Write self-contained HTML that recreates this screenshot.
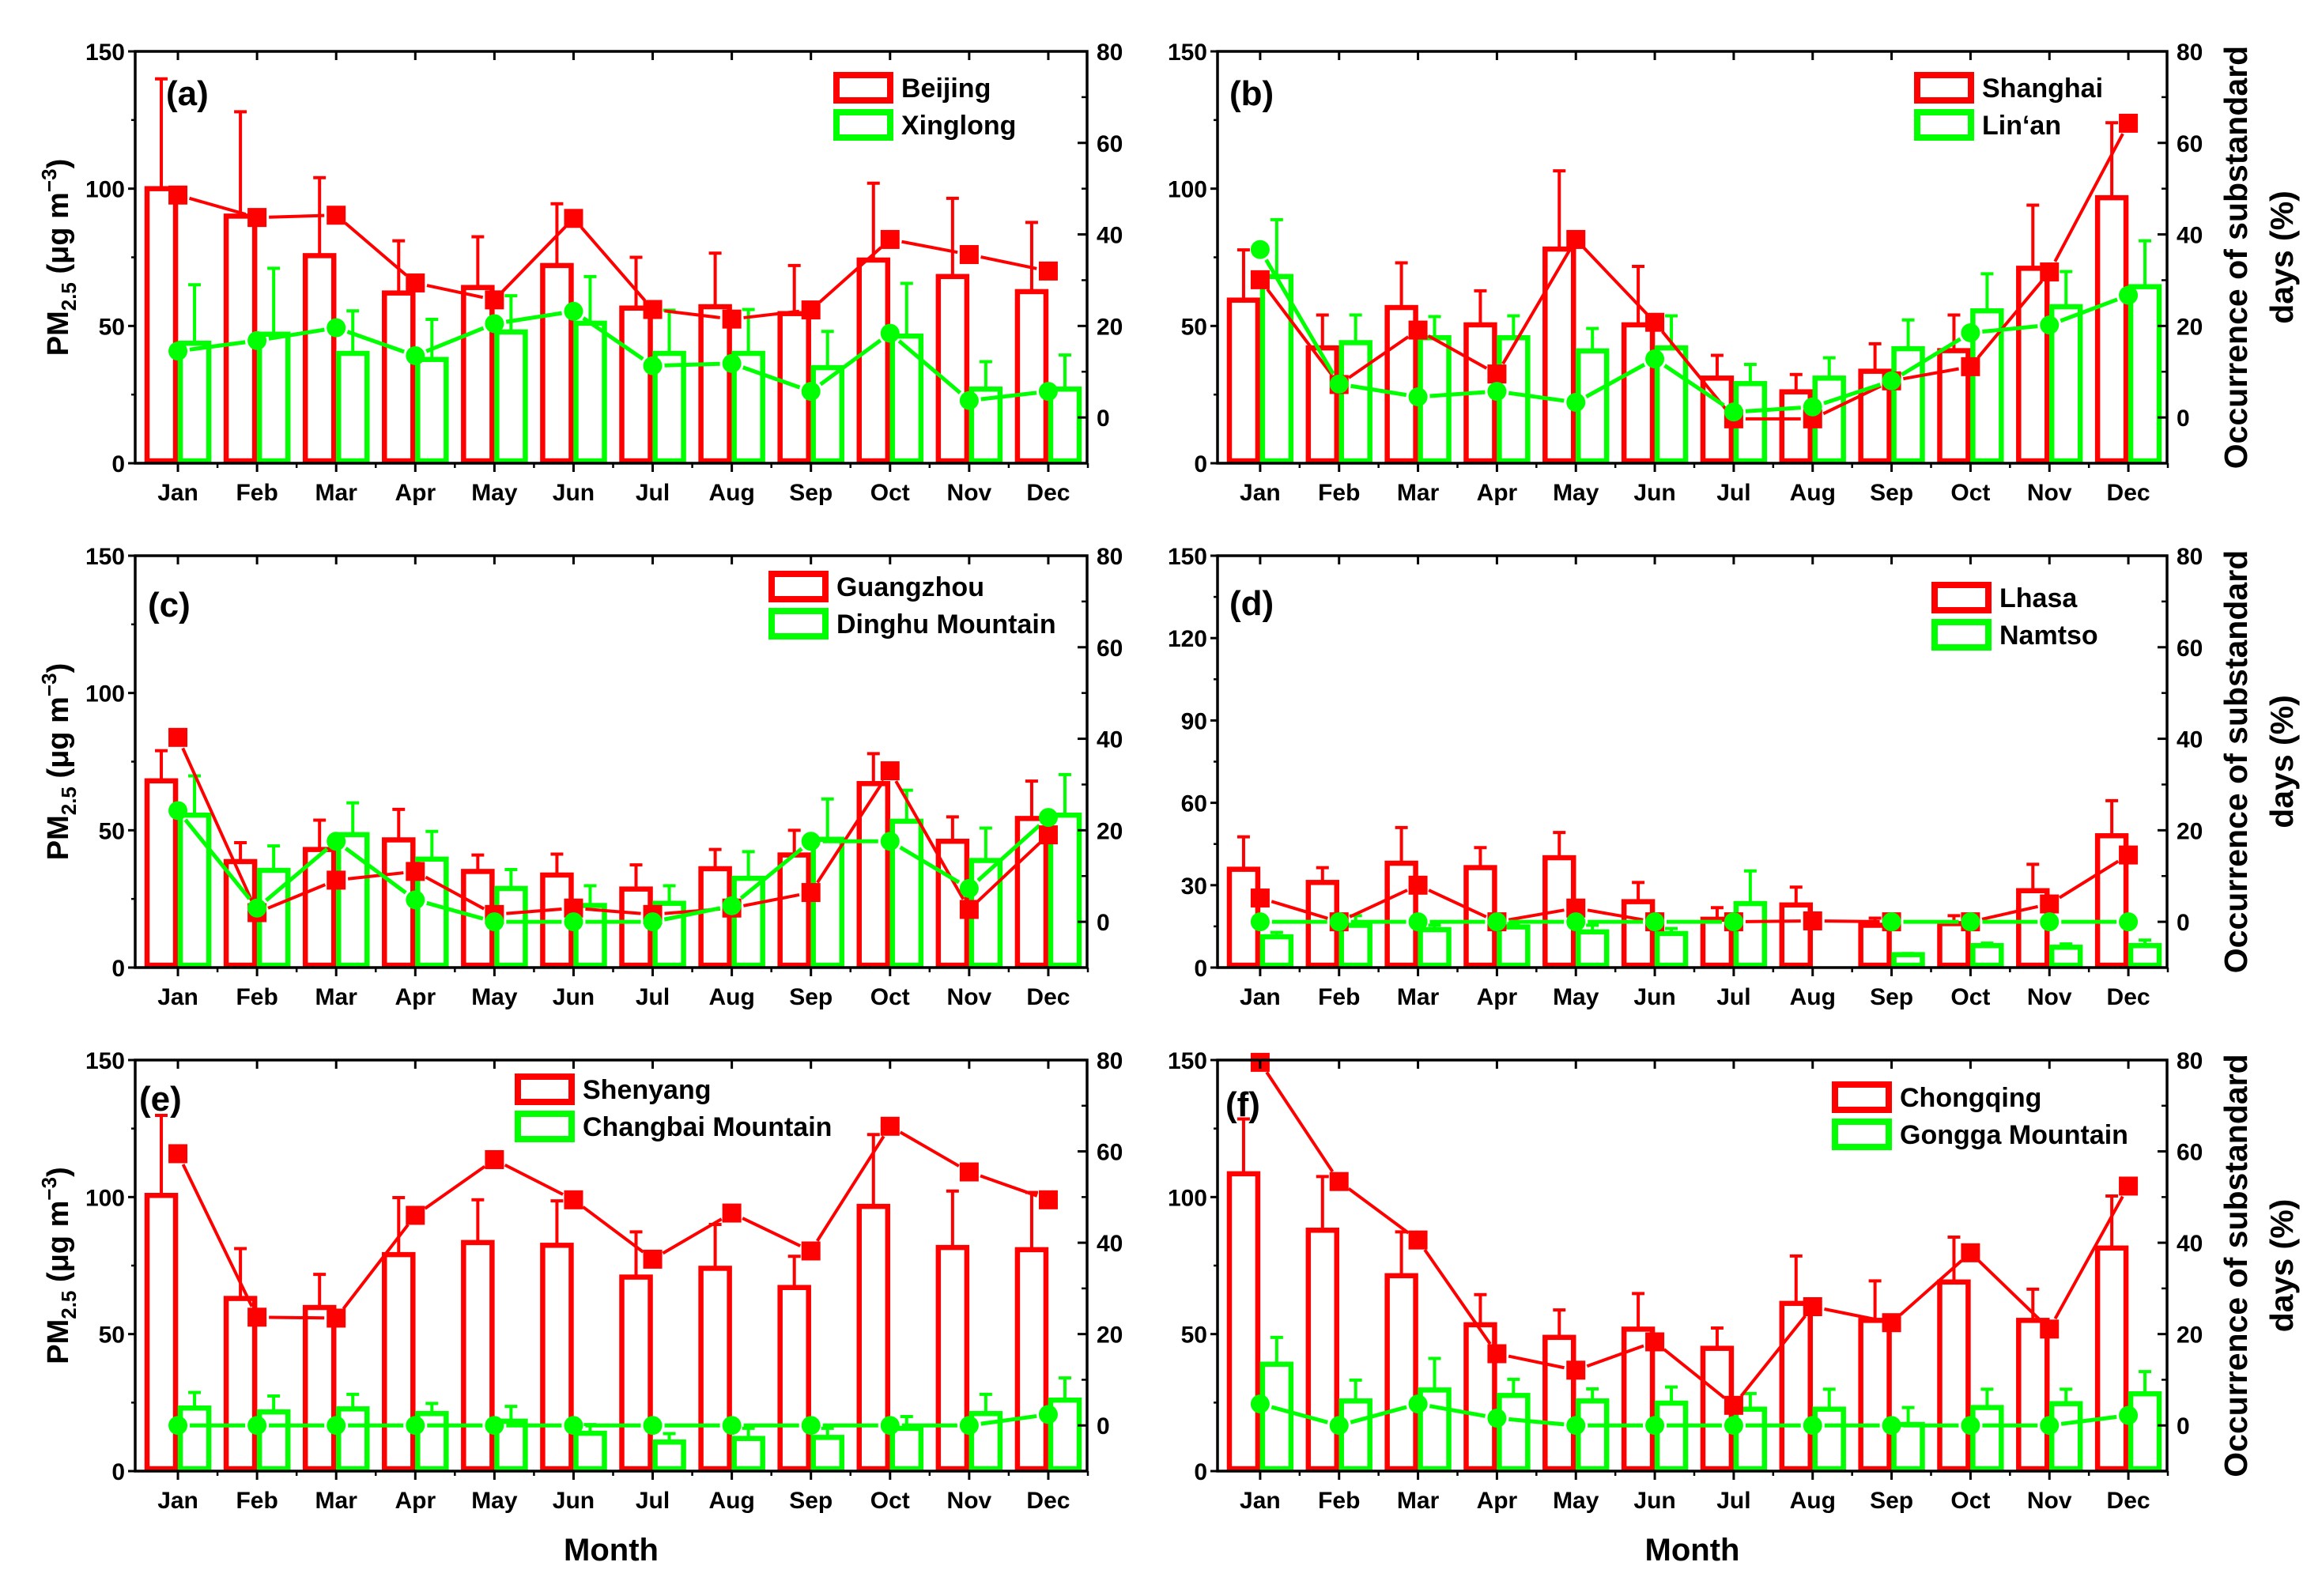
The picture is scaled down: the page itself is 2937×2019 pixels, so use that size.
<!DOCTYPE html>
<html><head><meta charset="utf-8"><style>
html,body{margin:0;padding:0;background:#fff;}
svg{display:block;font-family:"Liberation Sans",Arial,sans-serif;font-weight:bold;}
</style></head>
<body>
<svg id="fig" width="2937" height="2019" viewBox="0 0 2937 2019" xmlns="http://www.w3.org/2000/svg"></svg>
<script>
const months=['Jan','Feb','Mar','Apr','May','Jun','Jul','Aug','Sep','Oct','Nov','Dec'];
const pmTicksA=[0,50,100,150];
const pmTicksD=[0,30,60,90,120,150];
const occTicks=[0,20,40,60,80];

const beijingPM=[100,90,75.6,62,64,72,56.5,57,54.5,74,68,62.5];
const beijingErr=[140,128,104,81,82.5,94.5,75,76.5,72,102,96.5,87.7];
const beijingOcc=[48.6,43.7,44.2,29.4,25.7,43.5,23.6,21.5,23.5,38.9,35.6,32];
const xinglongPM=[43.7,47,40,37.8,47.8,51,40,40,34.8,46.3,27,27];
const xinglongErr=[65,71,55.5,52.4,61,68,55.7,56,48,65.5,37,39.4];
const xinglongOcc=[14.5,16.8,19.6,13.5,20.5,23.2,11.3,11.8,5.7,18.4,3.7,5.7];

const shanghaiPM=[59.4,42,56.7,50.4,78,50.4,31,26,33.5,41,71,96.7];
const shanghaiErr=[77.7,54,73,62.8,106.5,71.7,39.3,32.3,43.5,54,94,124];
const shanghaiOcc=[30.1,7.2,19.1,9.5,38.9,20.8,-0.3,-0.3,8,11.1,31.8,64.3];
const linanPM=[68,43.9,45.7,45.7,40.9,42,29,31,41.7,55.5,57,64.3];
const linanErr=[88.7,54,53.4,53.7,49.1,53.7,36,38.4,52.2,69,69.8,81];
const linanOcc=[36.7,7.3,4.5,5.7,3.3,12.8,1.2,2.3,8,18.5,20.2,26.7];

const guangzhouPM=[68,38.6,43,46.5,35,33.7,28.6,36,41,67,46,54.3];
const guangzhouErr=[79,45.5,53.7,57.6,41,41.3,37.4,43,50,77.9,54.9,67.9];
const guangzhouOcc=[40.3,2,9.1,11,1.6,3,1.6,3,6.4,33,2.7,19];
const dinghuPM=[55.5,35.4,48.4,39.5,28.8,22.6,23.4,32.5,46.7,53.3,39,55.5];
const dinghuErr=[69.8,44.3,60,49.6,35.7,29.8,29.8,42.2,61.4,64.6,50.8,70.3];
const dinghuOcc=[24.3,3,17.6,4.8,0,0,0,3.5,17.6,17.6,7.3,22.8];

const lhasaPM=[35.8,31,38,36.4,40,24,17.6,22.8,15.4,16,28,48];
const lhasaErr=[47.6,36.4,51,43.7,49.2,31,21.8,29.3,18,18.9,37.6,60.8];
const lhasaOcc=[5.2,0,8,0,3,0,0,0.2,0,0,3.9,14.6];
const namtsoPM=[11.2,15.4,13.8,14.8,13,12.4,23.3,null,4.7,8,7.4,8];
const namtsoErr=[12.8,18.9,15.4,16,15.4,14.2,35.2,null,5.1,8.9,8.6,10];
const namtsoOcc=[0,0,0,0,0,0,0,null,0,0,0,0];

const shenyangPM=[100.6,63,59.7,79,83.4,82.4,70.8,74,67,96.6,81.6,80.8];
const shenyangErr=[129.8,81.2,71.8,99.8,99,98.6,87.3,90,78.4,122.8,102.2,101.7];
const shenyangOcc=[59.5,23.7,23.5,46,58.2,49.4,36.4,46.5,38.2,65.5,55.5,49.4];
const changbaiPM=[23,21.6,22.7,21,18.2,13.8,10.6,11.9,12.3,15.6,21,25.9];
const changbaiErr=[28.7,27.4,28,24.7,23.6,17,13.7,15.6,15.6,19.9,28,34];
const changbaiOcc=[0,0,0,0,0,0,0,0,0,0,0,2.4];

const chongqingPM=[108.5,87.9,71.3,53.4,48.8,51.8,44.8,61.2,55,69,55,81.4];
const chongqingErr=[128.5,107.5,87.3,64.4,58.8,64.8,52.2,78.5,69.4,85.4,66.4,100.4];
const chongqingOcc=[79.5,53.4,40.6,15.7,12.1,18.3,4.4,26,22.5,37.8,21.1,52.4];
const gonggaPM=[39,25.6,29.6,27.6,25.6,24.8,22.6,22.6,17,23.2,24.6,28.2];
const gonggaErr=[48.8,33.2,41.1,33.5,30,30.7,28.3,29.9,23.2,29.9,29.9,36.3];
const gonggaOcc=[4.7,0,4.7,1.6,0,0,0,0,0,0,0,2.2];

const svg=document.getElementById('fig');
const NS='http://www.w3.org/2000/svg';
const RED='#ff0000', GREEN='#00ff00';
function mk(tag,attrs,parent){const e=document.createElementNS(NS,tag);for(const k in attrs)e.setAttribute(k,attrs[k]);(parent||svg).appendChild(e);return e;}

const panels=[
 {id:'a',L:171,R:1375,T:65,B:586,pmTicks:pmTicksA,city:'Beijing',bg:'Xinglong',cPM:beijingPM,cErr:beijingErr,cOcc:beijingOcc,gPM:xinglongPM,gErr:xinglongErr,gOcc:xinglongOcc,leg:[1054,91],lab:[210,133],left:true,month:false},
 {id:'b',L:1540,R:2741,T:65,B:586,pmTicks:pmTicksA,city:'Shanghai',bg:'Lin‘an',cPM:shanghaiPM,cErr:shanghaiErr,cOcc:shanghaiOcc,gPM:linanPM,gErr:linanErr,gOcc:linanOcc,leg:[2421,91],lab:[1555,133],left:false,month:false},
 {id:'c',L:171,R:1375,T:703,B:1224,pmTicks:pmTicksA,city:'Guangzhou',bg:'Dinghu Mountain',cPM:guangzhouPM,cErr:guangzhouErr,cOcc:guangzhouOcc,gPM:dinghuPM,gErr:dinghuErr,gOcc:dinghuOcc,leg:[972,722],lab:[187,780],left:true,month:false},
 {id:'d',L:1540,R:2741,T:703,B:1224,pmTicks:pmTicksD,city:'Lhasa',bg:'Namtso',cPM:lhasaPM,cErr:lhasaErr,cOcc:lhasaOcc,gPM:namtsoPM,gErr:namtsoErr,gOcc:namtsoOcc,leg:[2443,736],lab:[1555,778],left:false,month:false},
 {id:'e',L:171,R:1375,T:1341,B:1861,pmTicks:pmTicksA,city:'Shenyang',bg:'Changbai Mountain',cPM:shenyangPM,cErr:shenyangErr,cOcc:shenyangOcc,gPM:changbaiPM,gErr:changbaiErr,gOcc:changbaiOcc,leg:[651,1358],lab:[176,1405],left:true,month:true},
 {id:'f',L:1540,R:2741,T:1341,B:1861,pmTicks:pmTicksA,city:'Chongqing',bg:'Gongga Mountain',cPM:chongqingPM,cErr:chongqingErr,cOcc:chongqingOcc,gPM:gonggaPM,gErr:gonggaErr,gOcc:gonggaOcc,leg:[2317,1368],lab:[1550,1412],left:false,month:true}
];

function drawLine(g,pts,color,w,name){
  for(let i=0;i<pts.length-1;i++){
    const a=pts[i],b=pts[i+1];
    if(!a||!b)continue;
    const dx=b[0]-a[0],dy=b[1]-a[1],len=Math.hypot(dx,dy);
    if(len<32)continue;
    const ux=dx/len,uy=dy/len,gap=15;
    const ln=mk('line',{x1:a[0]+ux*gap,y1:a[1]+uy*gap,x2:b[0]-ux*gap,y2:b[1]-uy*gap,stroke:color,'stroke-width':w},g);
    
    
  }
}

panels.forEach(p=>{
  const g=mk('g',{});
  
  
  const W=p.R-p.L, H=p.B-p.T;
  const x=m=>p.L+(m-0.46)*W/12.03;
  const yL=v=>p.B-v/150*H;
  const yR=v=>p.B-(v+10)/90*H;
  const bw=0.42;

  [['c',RED],['g',GREEN]].forEach(([k,col])=>{
    const arr=k==='c'?p.cPM:p.gPM;
    arr.forEach((v,i)=>{
      if(v==null)return;
      const m=i+1;
      const x0=k==='c'?x(m-bw):x(m), x1=k==='c'?x(m):x(m+bw);
      const r=mk('rect',{x:x0+3,y:yL(v),width:Math.max(0,x1-x0-6),height:Math.max(0,p.B-yL(v)-3),fill:'none',stroke:col,'stroke-width':6.5},g);
      
      
    });
  });
  [['c',RED],['g',GREEN]].forEach(([k,col])=>{
    const arr=k==='c'?p.cPM:p.gPM, err=k==='c'?p.cErr:p.gErr;
    arr.forEach((v,i)=>{
      if(v==null||err[i]==null)return;
      const cx=x(i+1+(k==='c'?-bw/2:bw/2));
      const l=mk('line',{x1:cx,y1:yL(v),x2:cx,y2:yL(err[i]),stroke:col,'stroke-width':4},g);
      
      
      const c=mk('line',{x1:cx-8,y1:yL(err[i]),x2:cx+8,y2:yL(err[i]),stroke:col,'stroke-width':4},g);
      
      
    });
  });
  const cPts=p.cOcc.map((v,i)=>v==null?null:[x(i+1),yR(v)]);
  const gPts=p.gOcc.map((v,i)=>v==null?null:[x(i+1),yR(v)]);
  drawLine(g,cPts,RED,4,'city-occurrence-line');
  drawLine(g,gPts,GREEN,5,'background-occurrence-line');
  cPts.forEach((pt,i)=>{if(!pt)return;
    const s=mk('rect',{x:pt[0]-12,y:pt[1]-12,width:24,height:24,fill:RED},g);
    
    });
  gPts.forEach((pt,i)=>{if(!pt)return;
    const c=mk('circle',{cx:pt[0],cy:pt[1],r:12,fill:GREEN},g);
    
    });

  const fr=mk('rect',{x:p.L,y:p.T,width:W,height:H,fill:'none',stroke:'#000','stroke-width':3.5},g);
  
  
  for(let m=1;m<=12;m++){
    const t=mk('line',{x1:x(m),y1:p.B,x2:x(m),y2:p.B+11,stroke:'#000','stroke-width':3},g);
    
    
    const tt=mk('line',{x1:x(m),y1:p.T,x2:x(m),y2:p.T+11,stroke:'#000','stroke-width':3},g);
    
    
    const mn=mk('line',{x1:x(m+0.5),y1:p.B,x2:x(m+0.5),y2:p.B+6,stroke:'#000','stroke-width':2.5},g);
    
    
    const lb=mk('text',{x:x(m),y:p.B+47,'text-anchor':'middle','font-size':30},g);
    lb.textContent=months[m-1];
    
    
  }
  const pt=p.pmTicks, step=pt[1]-pt[0];
  pt.forEach(v=>{
    const t=mk('line',{x1:p.L-9,y1:yL(v),x2:p.L,y2:yL(v),stroke:'#000','stroke-width':3},g);
    
    
    if(v<150){const mt=mk('line',{x1:p.L-5,y1:yL(v+step/2),x2:p.L,y2:yL(v+step/2),stroke:'#000','stroke-width':2.5},g);
      
      }
    const lb=mk('text',{x:p.L-13,y:yL(v)+11,'text-anchor':'end','font-size':30},g);
    lb.textContent=v;
    
    
  });
  occTicks.forEach(v=>{
    const t=mk('line',{x1:p.R-12,y1:yR(v),x2:p.R,y2:yR(v),stroke:'#000','stroke-width':3},g);
    
    
    const mt=mk('line',{x1:p.R-7,y1:yR(v-10),x2:p.R,y2:yR(v-10),stroke:'#000','stroke-width':2.5},g);
    
    
    const lb=mk('text',{x:p.R+12,y:yR(v)+11,'text-anchor':'start','font-size':30},g);
    lb.textContent=v;
    
    
  });
  const pl=mk('text',{x:p.lab[0],y:p.lab[1],'font-size':44},g);
  pl.textContent='('+p.id+')';
  
  
  [[p.city,RED,0],[p.bg,GREEN,47]].forEach(([name,col,dy])=>{
    const sw=mk('rect',{x:p.leg[0]+4,y:p.leg[1]+dy+4,width:68,height:32,fill:'none',stroke:col,'stroke-width':8},g);
    
    
    const lt=mk('text',{x:p.leg[0]+86,y:p.leg[1]+dy+32,'font-size':34},g);
    lt.textContent=name;
    
    
  });
  const cy=(p.T+p.B)/2;
  if(p.left){
    const t=mk('text',{x:0,y:0,'text-anchor':'middle','font-size':38,transform:`translate(86,${cy}) rotate(-90)`},g);
    
    
    t.innerHTML='PM<tspan font-size="26" dy="10">2.5</tspan><tspan dy="-10"> (μg m</tspan><tspan font-size="26" dy="-15">−3</tspan><tspan dy="15">)</tspan>';
  } else {
    const t1=mk('text',{x:0,y:0,'text-anchor':'middle','font-size':41,transform:`translate(2842,${cy}) rotate(-90)`},g);
    t1.textContent='Occurrence of substandard';
    
    
    const t2=mk('text',{x:0,y:0,'text-anchor':'middle','font-size':41,transform:`translate(2900,${cy}) rotate(-90)`},g);
    t2.textContent='days (%)';
    
    
  }
  if(p.month){
    const mt=mk('text',{x:(p.L+p.R)/2,y:1974,'text-anchor':'middle','font-size':40},g);
    mt.textContent='Month';
    
    
  }
});
</script>
</body></html>
